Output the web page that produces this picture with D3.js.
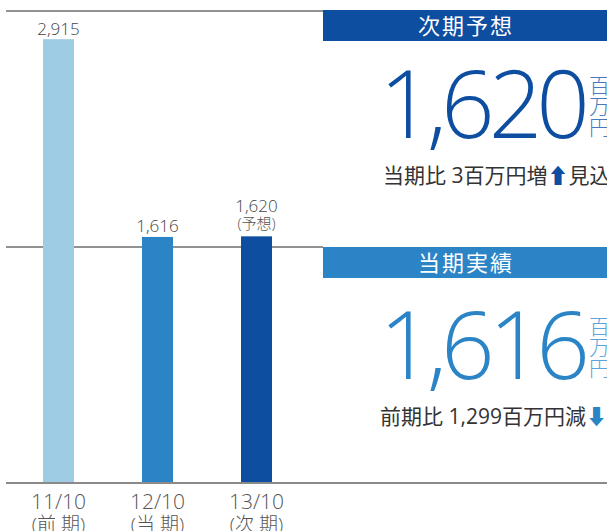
<!DOCTYPE html>
<html>
<head>
<meta charset="utf-8">
<script src="https://cdn.jsdelivr.net/npm/d3@7"></script>
<style>
  body { margin: 0; background: #fff; }
  svg { display: block; font-family: "Open Sans", "Noto Sans CJK JP", sans-serif; }
</style>
</head>
<body>
<div class="chart"></div>
<script>
// chart data
let categories = ["11/10", "12/10", "13/10"];
let periods = ["(前 期)", "(当 期)", "(次 期)"];
let values = [2915, 1616, 1620];
let valueNotes = ["", "", "(予想)"];
let gridValues = [0, 1550, 3100];

// side panels
let panelTitles = ["次期予想", "当期実績"];
let panelValues = [1620, 1616];
let panelUnit = ["百", "万", "円"];
let panelNotes = ["当期比 3百万円増", "前期比 1,299百万円減"];
let panelArrows = ["⬆", "⬇"];
let panelTails = ["見込", ""];

let width = 607, height = 531;
let barColors = ["#9ecce4", "#2a84c6", "#0d4ea1"];
let panelColors = ["#0d4ea1", "#2a84c6"];
let unitColors = ["#4a78bd", "#5da2d8"];

let svg = d3.select(".chart")
    .append("svg")
    .attr("width", width)
    .attr("height", height);

let xScale = d3.scaleBand()
    .domain(categories)
    .range([9, 306])
    .paddingInner(0.687)
    .paddingOuter(0.3435);

let yScale = d3.scaleLinear()
    .domain([0, 3100])
    .range([483, 11]);

// grid lines
svg.selectAll(".grid")
    .data(gridValues)
    .enter()
    .append("line")
    .attr("x1", 6)
    .attr("x2", d => d === 0 ? width : 323)
    .attr("y1", d => yScale(d))
    .attr("y2", d => yScale(d))
    .attr("stroke", d => d === 0 ? "#8a8a8a" : "#6e6e6e")
    .attr("stroke-width", d => d === 0 ? 2 : 1.3);

// bars
svg.selectAll(".bar")
    .data(values)
    .enter()
    .append("rect")
    .attr("x", (d, i) => xScale(categories[i]))
    .attr("y", d => yScale(d))
    .attr("width", xScale.bandwidth())
    .attr("height", d => yScale(0) - yScale(d) - 1)
    .attr("fill", (d, i) => barColors[i]);

// value labels
let fmt = d3.format(",");
svg.selectAll(".val")
    .data(values)
    .enter()
    .append("text")
    .attr("x", (d, i) => xScale(categories[i]) + xScale.bandwidth() / 2)
    .attr("y", (d, i) => yScale(d) - (valueNotes[i] ? 24 : 4.5))
    .attr("text-anchor", "middle")
    .attr("font-size", 17)
    .attr("font-weight", 300)
    .attr("fill", "#444")
    .text(d => fmt(d));

svg.selectAll(".note")
    .data(values)
    .enter()
    .filter((d, i) => valueNotes[i])
    .append("text")
    .attr("x", xScale(categories[2]) + xScale.bandwidth() / 2)
    .attr("y", d => yScale(d) - 7)
    .attr("text-anchor", "middle")
    .attr("font-size", 15)
    .attr("font-weight", 300)
    .attr("fill", "#555")
    .text(valueNotes[2]);

// x axis labels
let xAxis = svg.append("g");
categories.forEach((c, i) => {
    let cx = xScale(c) + xScale.bandwidth() / 2;
    xAxis.append("text")
        .attr("x", cx)
        .attr("y", 509)
        .attr("text-anchor", "middle")
        .attr("font-size", 21)
        .attr("font-weight", 300)
        .attr("fill", "#555")
        .text(c);
    xAxis.append("text")
        .attr("x", cx)
        .attr("y", 531)
        .attr("text-anchor", "middle")
        .attr("font-size", 19)
        .attr("font-weight", 300)
        .attr("fill", "#555")
        .text(periods[i]);
});

// panels on the right
let panelTop = [10, 247];
panelTitles.forEach((t, i) => {
    let dy = i ? 4 : 0;
    let g = svg.append("g").attr("transform", "translate(0," + panelTop[i] + ")");
    g.append("rect")
        .attr("x", 323)
        .attr("y", 0)
        .attr("width", width - 323)
        .attr("height", 31)
        .attr("fill", panelColors[i]);
    g.append("text")
        .attr("x", 466)
        .attr("y", 24)
        .attr("text-anchor", "middle")
        .attr("font-size", 22)
        .attr("letter-spacing", 2)
        .attr("fill", "#fff")
        .text(t);
    g.append("text")
        .attr("x", 584)
        .attr("y", 128 + dy)
        .attr("text-anchor", "end")
        .attr("font-size", 94)
        .attr("font-weight", 300)
        .attr("letter-spacing", -6)
        .attr("fill", panelColors[i])
        .text(fmt(panelValues[i]));
    panelUnit.forEach((u, k) => {
        g.append("text")
            .attr("x", 589)
            .attr("y", 83 + k * 21 + dy)
            .attr("font-size", 21)
            .attr("font-weight", 300)
            .attr("fill", unitColors[i])
            .text(u);
    });
    let note = g.append("text")
        .attr("x", i ? 380 : 383)
        .attr("y", 173 + dy)
        .attr("font-size", 21)
        .attr("fill", "#333");
    note.append("tspan").text(panelNotes[i]);
    note.append("tspan").attr("fill", panelColors[i]).text(panelArrows[i]);
    note.append("tspan").text(panelTails[i]);
});
</script>
</body>
</html>
